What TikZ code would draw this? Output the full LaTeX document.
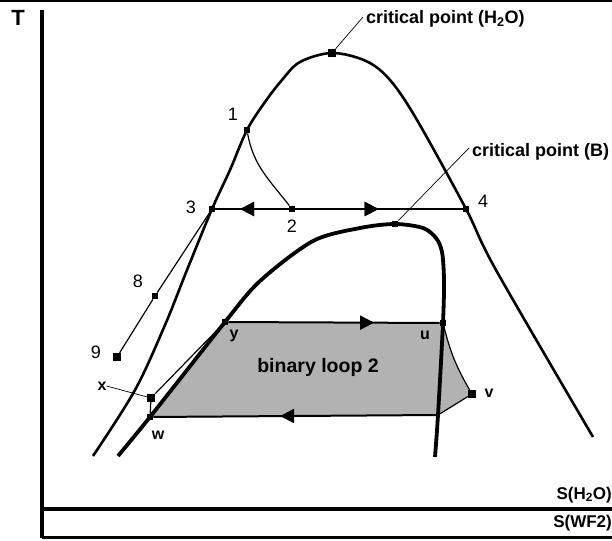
\documentclass[tikz,border=0pt]{standalone}
\usepackage{fontspec}
\setmainfont{Liberation Sans}
\usetikzlibrary{positioning,arrows.meta,decorations.markings,backgrounds}

\begin{document}
\begin{tikzpicture}[x=1pt, y=-1pt, line join=round]
  \tikzset{
    pt/.style={fill=black, minimum size=6.5pt, inner sep=0pt},
    bigpt/.style={pt, minimum size=8pt},
    num/.style={font=\fontsize{18}{18}\selectfont, inner sep=0pt},
    letter/.style={font=\fontsize{16}{16}\selectfont\bfseries, inner sep=0pt},
    note/.style={font=\fontsize{18}{18}\selectfont\bfseries, inner sep=0pt, anchor=west},
    axis/.style={line width=4pt},
    water/.style={line width=2.6pt},
    wf/.style={line width=3.8pt},
    loopline/.style={line width=2pt},
    fine/.style={line width=1.2pt},
    leader/.style={line width=0.7pt},
    loopfill/.style={fill=black!30},
    fwd/.style={postaction=decorate, decoration={markings,
        mark=at position #1 with {\arrow{Triangle[length=14pt,width=14pt]}}}},
    bwd/.style={postaction=decorate, decoration={markings,
        mark=at position #1 with {\arrowreversed{Triangle[length=14pt,width=14pt]}}}}
  }
  \useasboundingbox (0,0) rectangle (612,540);

  % frame and axes
  \draw[line width=2pt] (0,1) -- (612,1);
  \draw[axis] (42,10) -- (42,538);
  \draw[axis] (42,509) -- (612,509);
  \draw[line width=3pt] (42,537) -- (612,537);
  \node[font=\fontsize{22}{22}\selectfont\bfseries, inner sep=0pt] (tlab) at (18,18) {T};
  \node[font=\fontsize{17}{17}\selectfont\bfseries, inner sep=0pt, anchor=east] (sh2o) at (612,495) {S(H\textsubscript{2}O)};
  \node[font=\fontsize{17}{17}\selectfont\bfseries, inner sep=0pt, anchor=east] (swf) at (612,523) {S(WF2)};

  % saturation dome of water
  \draw[water] plot[smooth, tension=0.55] coordinates {(93,456) (135,390) (165,325) (187,270) (212,209)
    (230,170) (247,130) (265,102) (282,80) (300,62) (332,53) (366,61) (390,80) (417,120)
    (466,209) (496,270) (593,437)};
  % saturation dome of the binary fluid
  \draw[wf] plot[smooth, tension=0.5] coordinates {(118,456) (150,417) (225,322) (260,281) (313,241)
    (360,228) (395,224) (423,228) (436,238) (442,252) (444,280) (443,323) (438,415) (435,457)};

  % state points
  \node[bigpt] (ncw) at (332,53) {};
  \node[pt] (ncb) at (395,224) {};
  \node[pt] (n1) at (247,130) {};
  \node[pt] (n2) at (292,209) {};
  \node[pt] (n3) at (212,209) {};
  \node[pt] (n4) at (466,209) {};
  \node[pt] (n8) at (155,296) {};
  \node[bigpt] (n9) at (117,357) {};
  \node[bigpt] (nx) at (151,398) {};
  \node[pt] (nw) at (150,417) {};
  \node[pt] (ny) at (225,322) {};
  \node[pt] (nu) at (443,323) {};
  \node[bigpt] (nv) at (472,394) {};
  \coordinate (nc) at (438,415);

  % binary loop 2
  \begin{scope}[on background layer]
    \fill[loopfill] (ny.center) -- (nu.center) to[bend right=8] (nv.center) -- (nc) -- (nw.center) -- cycle;
  \end{scope}
  \draw[loopline, fwd=0.69] (ny) -- (nu);
  \draw[fine] (nu) to[bend right=8] (nv);
  \draw[fine] (nv) -- (nc);
  \draw[loopline, fwd=0.555] (nc) -- (nw);
  \draw[fine] (nw) -- (nx) -- (ny);

  % water cycle
  \draw[loopline, bwd=0.1, fwd=0.66] (n3) -- (n4);
  \draw[fine] (n1) to[out=-80, in=128] (n2);
  \draw[fine] (n3) -- (n8) -- (n9);

  % labels
  \node[num] (l1) at (233,114) {1};
  \node[num] (l2) at (292,226) {2};
  \node[num] (l3) at (191,207) {3};
  \node[num] (l4) at (483,201) {4};
  \node[num] (l8) at (138,281) {8};
  \node[num] (l9) at (96,352) {9};
  \node[letter] (lx) at (102,386) {x};
  \node[letter] (lw) at (158,435) {w};
  \node[letter] (ly) at (234,336) {y};
  \node[letter] (lu) at (425,335) {u};
  \node[letter] (lv) at (489,393) {v};
  \draw[leader] (lx.east) -- (nx);
  \node[font=\fontsize{19.5}{19.5}\selectfont\bfseries, inner sep=0pt] (lloop) at (318,367) {binary loop 2};
  \node[note] (lcw) at (366,19) {critical point (H\textsubscript{2}O)};
  \node[note] (lcb) at (472,152) {critical point (B)};
  \draw[leader] (ncw) -- ([xshift=-3pt, yshift=2pt]lcw.west);
  \draw[leader] (ncb) -- ([xshift=-3pt, yshift=4pt]lcb.west);
\end{tikzpicture}
\end{document}
